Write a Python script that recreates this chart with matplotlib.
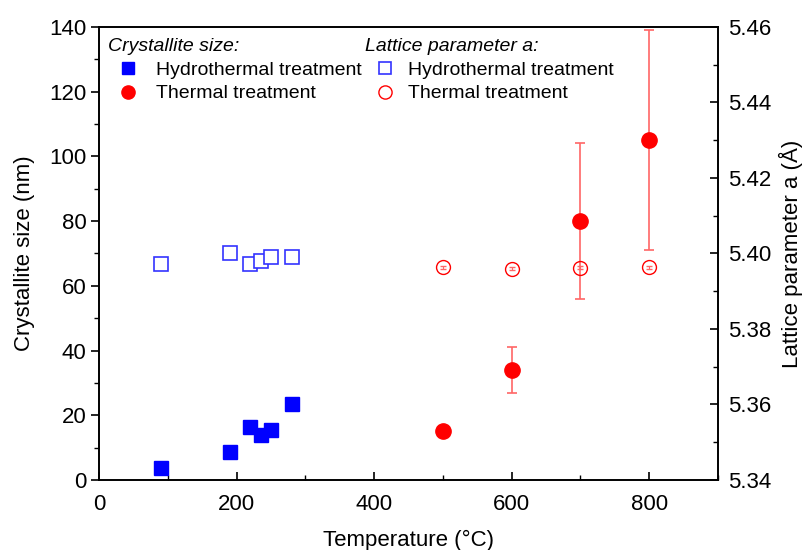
import numpy as np
import matplotlib.pyplot as plt
from matplotlib.lines import Line2D
from matplotlib.ticker import MultipleLocator

plt.rcParams['font.family'] = ['Liberation Sans', 'DejaVu Sans']

# crystallite size (left axis)
T_hydro = [90, 190, 220, 235, 250, 280]
size_hydro = [3.7, 8.7, 16.4, 13.9, 15.4, 23.5]
T_therm = [500, 600, 700, 800]
size_therm = [15, 34, 80, 105]
size_therm_err = [0.8, 7, 24, 34]

# lattice parameter (right axis)
a_hydro = [5.3971, 5.4000, 5.3971, 5.3979, 5.3990, 5.3990]
a_hydro_err = [0.0006, 0.0006, 0.0006, 0.0006, 0.0006, 0.0006]
a_therm = [5.3963, 5.3960, 5.3962, 5.3963]
a_therm_err = [0.0004, 0.0004, 0.0004, 0.0004]

blue = '#0000ff'
red = '#ff0000'
ered = '#ff6666'

fig = plt.figure(figsize=(8.05, 5.5), dpi=100)
ax = fig.add_axes([0.123, 0.1273, 0.769, 0.8237])
ax2 = ax.twinx()

ax.plot(T_hydro, size_hydro, 's', color=blue, ms=9.5, zorder=3)
ax.errorbar(T_therm, size_therm, yerr=size_therm_err, fmt='o', color=red, ms=11,
            ecolor=ered, elinewidth=1.2, capsize=3.6, capthick=1.2, zorder=3)

ax2.errorbar(T_hydro, a_hydro, yerr=a_hydro_err, fmt='s', mfc='white', mec='#3333ff',
             mew=1.2, ms=9.5, ecolor='#9999ff', elinewidth=0.8, capsize=2.5)
ax2.errorbar(T_therm, a_therm, yerr=a_therm_err, fmt='o', mfc='none', mec=red,
             mew=1.0, ms=10, ecolor=ered, elinewidth=0.8, capsize=2.5)

ax.set_xlim(0, 900)
ax.set_ylim(0, 140)
ax2.set_ylim(5.34, 5.46)

ax.xaxis.set_major_locator(MultipleLocator(200))
ax.xaxis.set_minor_locator(MultipleLocator(100))
ax.yaxis.set_major_locator(MultipleLocator(20))
ax.yaxis.set_minor_locator(MultipleLocator(10))
ax2.yaxis.set_major_locator(MultipleLocator(0.02))
ax2.yaxis.set_minor_locator(MultipleLocator(0.01))
ax2.yaxis.set_major_formatter(plt.FormatStrFormatter('%.2f'))

for a in (ax, ax2):
    a.tick_params(which='major', length=6, width=1.2, labelsize=16)
    a.tick_params(which='minor', length=3.5, width=1.0)
    for s in a.spines.values():
        s.set_linewidth(1.2)
ax.tick_params(axis='x', which='both', direction='in', pad=10)
ax.tick_params(axis='y', which='both', direction='out', pad=3)
ax2.tick_params(axis='y', which='both', direction='in', pad=7)

ax.set_xlabel('Temperature (°C)', fontsize=16, labelpad=11)
ax.set_ylabel('Crystallite size (nm)', fontsize=16, labelpad=10)
ax2.set_ylabel('Lattice parameter a (Å)', fontsize=16, labelpad=6)

ax.text(0.0145, 0.947, 'Crystallite size:', transform=ax.transAxes, fontsize=14,
        style='italic', va='baseline')
ax.text(0.4297, 0.947, 'Lattice parameter a:', transform=ax.transAxes, fontsize=14,
        style='italic', va='baseline')

h1 = [Line2D([], [], ls='none', marker='s', color=blue, ms=8),
      Line2D([], [], ls='none', marker='o', color=red, ms=9.5)]
h2 = [Line2D([], [], ls='none', marker='s', mfc='white', mec='#3333ff', mew=1.2, ms=8),
      Line2D([], [], ls='none', marker='o', mfc='white', mec=red, ms=9.5)]
labels = ['Hydrothermal treatment', 'Thermal treatment']
ax.legend(h1, labels, loc='upper left', bbox_to_anchor=(0.0312, 0.925), frameon=False,
          fontsize=14, handlelength=1.0, handletextpad=0.94, labelspacing=0.32,
          borderpad=0, borderaxespad=0)
ax2.legend(h2, labels, loc='upper left', bbox_to_anchor=(0.4464, 0.925), frameon=False,
           fontsize=14, handlelength=1.0, handletextpad=0.69, labelspacing=0.32,
           borderpad=0, borderaxespad=0)

fig.savefig('out.png', dpi=100)
